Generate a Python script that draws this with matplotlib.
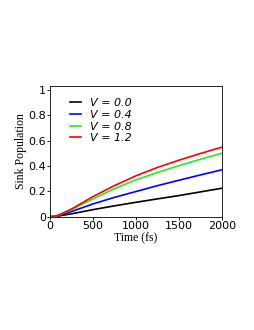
import matplotlib
matplotlib.use("Agg")
import matplotlib.pyplot as plt

# time axis (fs) and sink population
time_fs = [0, 50, 100, 250, 500, 750, 1000, 1250, 1500, 1750, 2000]
pop_v00 = [0, 0.001, 0.005, 0.022, 0.055, 0.085, 0.113, 0.14, 0.166, 0.195, 0.224]
pop_v04 = [0, 0.002, 0.008, 0.04, 0.10, 0.152, 0.198, 0.244, 0.287, 0.329, 0.369]
pop_v08 = [0, 0.002, 0.011, 0.055, 0.14, 0.22, 0.29, 0.348, 0.402, 0.453, 0.50]
pop_v12 = [0, 0.002, 0.012, 0.06, 0.158, 0.245, 0.322, 0.388, 0.445, 0.498, 0.548]

labels = ["V = 0.0", "V = 0.4", "V = 0.8", "V = 1.2"]
colors = ["black", "blue", "#22ee22", "red"]


def main():
    fig = plt.figure(figsize=(2.55, 3.3), dpi=100)
    ax = fig.add_axes([50 / 255, 1 - 217 / 330, 172 / 255, 131 / 330])

    for ys, lab, c in zip([pop_v00, pop_v04, pop_v08, pop_v12], labels, colors):
        ax.plot(time_fs, ys, color=c, lw=1.2, label=lab)

    ax.set_xlim(0, 2000)
    ax.set_ylim(-0.003, 1.03)
    ax.set_xticks([0, 500, 1000, 1500, 2000])
    ax.set_yticks([0, 0.2, 0.4, 0.6, 0.8, 1])
    ax.set_yticklabels(["0", "0.2", "0.4", "0.6", "0.8", "1"])
    ax.tick_params(labelsize=8, length=2, width=0.6, pad=1)
    for s in ax.spines.values():
        s.set_linewidth(0.6)

    ax.set_xlabel("Time (fs)", family="Liberation Serif", fontsize=8.5, labelpad=1)
    ax.set_ylabel("Sink Population", family="Liberation Serif", fontsize=8.5, labelpad=1)

    ax.legend(loc="upper left", bbox_to_anchor=(0.09, 0.94), frameon=False,
              prop={"size": 8, "style": "italic"}, handlelength=1.0,
              handletextpad=0.8, labelspacing=0.15, borderaxespad=0)

    fig.savefig("out.png", dpi=100)


if __name__ == "__main__":
    main()
